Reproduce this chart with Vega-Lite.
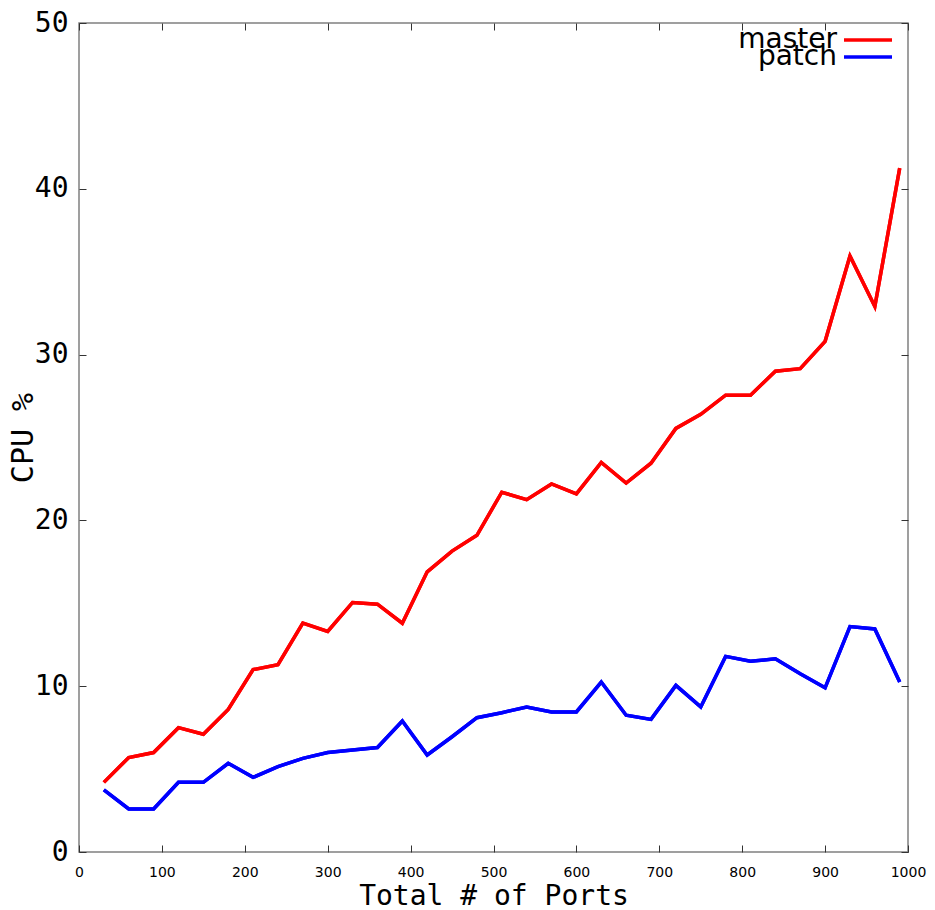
{
  "$schema": "https://vega.github.io/schema/vega-lite/v6.json",
  "width": 829,
  "height": 829,
  "autosize": {"type": "none"},
  "padding": {"left": 79, "top": 23, "right": 27, "bottom": 58},
  "background": "white",
  "config": {
    "view": {"stroke": "#808080", "strokeWidth": 1.5},
    "axis": {"grid": false, "domain": false, "ticks": true, "tickSize": -7, "tickColor": "#333333", "tickWidth": 1, "labelColor": "#000000", "titleColor": "#000000"},
    "legend": {"orient": "none", "title": null, "padding": 0, "symbolType": "M-4,0H4", "symbolSize": 144, "symbolStrokeWidth": 3.5, "symbolOpacity": 1, "labelAlign": "right", "labelOffset": -45, "labelFont": "DejaVu Sans", "labelFontSize": 28, "labelColor": "#000000", "labelLimit": 300}
  },
  "datasets": {
    "cpu": [
      {"ports": 30, "series": "master", "cpu": 4.2},
      {"ports": 60, "series": "master", "cpu": 5.7},
      {"ports": 90, "series": "master", "cpu": 6.0},
      {"ports": 120, "series": "master", "cpu": 7.5},
      {"ports": 150, "series": "master", "cpu": 7.1},
      {"ports": 180, "series": "master", "cpu": 8.6},
      {"ports": 210, "series": "master", "cpu": 11.0},
      {"ports": 240, "series": "master", "cpu": 11.3},
      {"ports": 270, "series": "master", "cpu": 13.8},
      {"ports": 300, "series": "master", "cpu": 13.3},
      {"ports": 330, "series": "master", "cpu": 15.05},
      {"ports": 360, "series": "master", "cpu": 14.95},
      {"ports": 390, "series": "master", "cpu": 13.8},
      {"ports": 420, "series": "master", "cpu": 16.9},
      {"ports": 450, "series": "master", "cpu": 18.15},
      {"ports": 480, "series": "master", "cpu": 19.1},
      {"ports": 510, "series": "master", "cpu": 21.7},
      {"ports": 540, "series": "master", "cpu": 21.25},
      {"ports": 570, "series": "master", "cpu": 22.2},
      {"ports": 600, "series": "master", "cpu": 21.6},
      {"ports": 630, "series": "master", "cpu": 23.5},
      {"ports": 660, "series": "master", "cpu": 22.25},
      {"ports": 690, "series": "master", "cpu": 23.45},
      {"ports": 720, "series": "master", "cpu": 25.55},
      {"ports": 750, "series": "master", "cpu": 26.4},
      {"ports": 780, "series": "master", "cpu": 27.55},
      {"ports": 810, "series": "master", "cpu": 27.55},
      {"ports": 840, "series": "master", "cpu": 29.0},
      {"ports": 870, "series": "master", "cpu": 29.15},
      {"ports": 900, "series": "master", "cpu": 30.8},
      {"ports": 930, "series": "master", "cpu": 35.95},
      {"ports": 960, "series": "master", "cpu": 32.9},
      {"ports": 990, "series": "master", "cpu": 41.25},
      {"ports": 30, "series": "patch", "cpu": 3.75},
      {"ports": 60, "series": "patch", "cpu": 2.6},
      {"ports": 90, "series": "patch", "cpu": 2.6},
      {"ports": 120, "series": "patch", "cpu": 4.2},
      {"ports": 150, "series": "patch", "cpu": 4.2},
      {"ports": 180, "series": "patch", "cpu": 5.35},
      {"ports": 210, "series": "patch", "cpu": 4.5},
      {"ports": 240, "series": "patch", "cpu": 5.15},
      {"ports": 270, "series": "patch", "cpu": 5.65},
      {"ports": 300, "series": "patch", "cpu": 6.0},
      {"ports": 330, "series": "patch", "cpu": 6.15},
      {"ports": 360, "series": "patch", "cpu": 6.3},
      {"ports": 390, "series": "patch", "cpu": 7.9},
      {"ports": 420, "series": "patch", "cpu": 5.85},
      {"ports": 450, "series": "patch", "cpu": 6.95},
      {"ports": 480, "series": "patch", "cpu": 8.1},
      {"ports": 510, "series": "patch", "cpu": 8.4},
      {"ports": 540, "series": "patch", "cpu": 8.75},
      {"ports": 570, "series": "patch", "cpu": 8.45},
      {"ports": 600, "series": "patch", "cpu": 8.45},
      {"ports": 630, "series": "patch", "cpu": 10.25},
      {"ports": 660, "series": "patch", "cpu": 8.25},
      {"ports": 690, "series": "patch", "cpu": 8.0},
      {"ports": 720, "series": "patch", "cpu": 10.05},
      {"ports": 750, "series": "patch", "cpu": 8.75},
      {"ports": 780, "series": "patch", "cpu": 11.8},
      {"ports": 810, "series": "patch", "cpu": 11.5},
      {"ports": 840, "series": "patch", "cpu": 11.65},
      {"ports": 870, "series": "patch", "cpu": 10.75},
      {"ports": 900, "series": "patch", "cpu": 9.9},
      {"ports": 930, "series": "patch", "cpu": 13.6},
      {"ports": 960, "series": "patch", "cpu": 13.45},
      {"ports": 990, "series": "patch", "cpu": 10.25}
    ]
  },
  "data": {"name": "cpu"},
  "layer": [
    {
      "mark": {"type": "line", "strokeWidth": 3.5},
      "encoding": {
        "x": {
          "field": "ports", "type": "quantitative",
          "scale": {"domain": [0, 1000], "nice": false, "zero": false},
          "axis": {
            "orient": "bottom",
            "values": [0, 100, 200, 300, 400, 500, 600, 700, 800, 900, 1000],
            "format": "d",
            "title": "Total # of Ports",
            "titleFont": "DejaVu Sans Mono", "titleFontSize": 28, "titleFontWeight": "normal",
            "labelFont": "DejaVu Sans", "labelFontSize": 14, "labelPadding": 20,
            "labelFlush": false, "labelOverlap": false,
            "titlePadding": 3
          }
        },
        "y": {
          "field": "cpu", "type": "quantitative",
          "scale": {"domain": [0, 50], "nice": false, "zero": false},
          "axis": {
            "orient": "left",
            "values": [0, 10, 20, 30, 40, 50],
            "title": "CPU %",
            "titleFont": "DejaVu Sans Mono", "titleFontSize": 30, "titleFontWeight": "normal",
            "labelFont": "DejaVu Sans Mono", "labelFontSize": 28, "labelPadding": 18,
            "labelFlush": false, "labelOverlap": false,
            "titlePadding": -4
          }
        },
        "color": {
          "field": "series", "type": "nominal",
          "scale": {"domain": ["master", "patch"], "range": ["#ff0000", "#0000ff"]},
          "legend": {"values": ["master"], "legendX": 775, "legendY": 3}
        }
      }
    },
    {
      "mark": {"type": "line", "strokeWidth": 3.5},
      "encoding": {
        "x": {
          "field": "ports", "type": "quantitative",
          "axis": {"orient": "top", "values": [0, 100, 200, 300, 400, 500, 600, 700, 800, 900, 1000], "labels": false, "title": null}
        },
        "y": {
          "field": "cpu", "type": "quantitative",
          "axis": {"orient": "right", "values": [0, 10, 20, 30, 40, 50], "labels": false, "title": null}
        },
        "color": {
          "field": "series", "type": "nominal",
          "scale": {"domain": ["master", "patch"], "range": ["#ff0000", "#0000ff"]},
          "legend": {"values": ["patch"], "legendX": 775, "legendY": 20}
        }
      }
    }
  ],
  "resolve": {
    "axis": {"x": "independent", "y": "independent"},
    "scale": {"color": "independent"},
    "legend": {"color": "independent"}
  }
}
